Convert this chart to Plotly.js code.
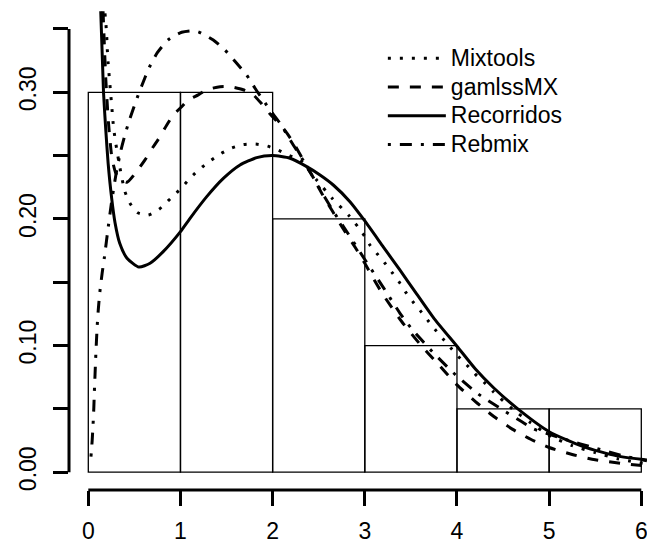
<!DOCTYPE html>
<html><head><meta charset="utf-8">
<script src="https://cdn.plot.ly/plotly-3.0.1.min.js"></script>
<style>html,body{margin:0;padding:0;background:#fff}#chart{width:647px;height:544px}</style>
</head><body><div id="chart"></div>
<script>
// Histogram
const binCenters = [0.5, 1.5, 2.5, 3.5, 4.5, 5.5];
const binDensity = [0.30, 0.30, 0.20, 0.10, 0.05, 0.05];

// Mixtools (dotted)
const mixX = [0.181,0.192,0.200,0.206,0.214,0.224,0.235,0.246,0.257,0.268,0.282,0.301,0.344,0.398,0.452,0.532,0.651,0.767,0.865,0.959,1.049,1.139,1.237,1.335,1.443,1.559,1.682,1.816,1.946,2.066,2.181,2.297,2.471,2.65,2.832,2.977,3.056,3.136,3.219,3.302,3.382,3.447,3.526,3.61,3.689,3.772,3.852,3.943,4.033,4.123,4.214,4.304,4.394,4.6,4.8,5.0,5.25,5.5,5.75,6.06];
const mixY = [0.3624,0.3531,0.3439,0.3340,0.3242,0.3151,0.3058,0.2961,0.2866,0.2768,0.2677,0.2584,0.2400,0.2215,0.2124,0.2050,0.2031,0.2076,0.2142,0.2207,0.2276,0.2347,0.2410,0.2465,0.2518,0.2561,0.2587,0.2591,0.2575,0.2541,0.2501,0.2465,0.2313,0.2160,0.2023,0.1887,0.1794,0.1723,0.1650,0.1571,0.1492,0.1418,0.1342,0.1268,0.1194,0.1118,0.1050,0.0973,0.0900,0.0834,0.0763,0.0703,0.0636,0.0500,0.0390,0.0290,0.0210,0.0155,0.0105,0.0065];

// gamlssMX (dashed)
const gamX = [0.16,0.19,0.22,0.257,0.30,0.36,0.42,0.54,0.615,0.705,0.778,0.85,0.922,1.013,1.085,1.193,1.285,1.43,1.54,1.68,1.79,1.88,1.97,2.1,2.2,2.4,2.55,2.65,2.75,2.9,3.0,3.1,3.2,3.4,3.6,3.8,4.0,4.2,4.4,4.6,4.8,5.0,5.25,5.5,5.8,6.06];
const gamY = [0.364,0.310,0.275,0.248,0.236,0.231,0.229,0.239,0.2466,0.257,0.265,0.274,0.282,0.2886,0.294,0.298,0.302,0.3044,0.3044,0.302,0.298,0.291,0.283,0.273,0.263,0.238,0.218,0.206,0.194,0.177,0.165,0.152,0.140,0.119,0.101,0.085,0.069,0.0558,0.044,0.034,0.026,0.0195,0.014,0.0098,0.0068,0.005];

// Recorridos (solid)
const recX = [0.135,0.165,0.19,0.215,0.254,0.29,0.34,0.42,0.55,0.67,0.81,1.0,1.104,1.285,1.465,1.646,1.827,2.0,2.188,2.37,2.514,2.658,2.839,2.994,3.2,3.38,3.56,3.75,4.0,4.2,4.4,4.66,5.0,5.37,5.733,6.06];
const recY = [0.364,0.300,0.270,0.244,0.216,0.197,0.181,0.169,0.162,0.165,0.174,0.190,0.2005,0.2176,0.232,0.2426,0.2484,0.250,0.2479,0.2413,0.2347,0.2268,0.2136,0.199,0.178,0.1597,0.141,0.1215,0.0995,0.0815,0.0665,0.050,0.032,0.0202,0.0129,0.0097];

// Rebmix (dash-dot)
const rebX = [0.029,0.042,0.052,0.060,0.066,0.073,0.080,0.088,0.097,0.108,0.125,0.150,0.175,0.217,0.25,0.30,0.35,0.40,0.45,0.532,0.579,0.662,0.749,0.865,1.013,1.12,1.193,1.356,1.483,1.61,1.718,1.809,1.917,1.971,2.08,2.224,2.35,2.478,2.658,2.8,3.0,3.2,3.382,3.5,3.707,3.96,4.23,4.5,4.7,4.83,5.0,5.17,5.5,5.8,6.06];
const rebY = [0.0123,0.025,0.038,0.051,0.064,0.077,0.090,0.103,0.116,0.128,0.142,0.157,0.170,0.194,0.212,0.235,0.253,0.267,0.279,0.296,0.305,0.3197,0.3313,0.3413,0.3474,0.3486,0.3478,0.3413,0.3334,0.3229,0.3136,0.3032,0.2918,0.2860,0.2755,0.2584,0.2440,0.2280,0.2060,0.1905,0.1680,0.1460,0.1255,0.1140,0.0971,0.0786,0.0618,0.0490,0.0400,0.0342,0.0300,0.0260,0.0190,0.0130,0.0090];

const seriesNames = ['Mixtools', 'gamlssMX', 'Recorridos', 'Rebmix'];
const xTicks = [0,1,2,3,4,5,6];
const yTicks = [0,0.05,0.10,0.15,0.20,0.25,0.30,0.35];
const yTickText = ['0.00','','0.10','','0.20','','0.30',''];

const xRange = [-0.2094, 6.0618];
const yRange = [-0.01405, 0.3642];
const fx = v => (v - xRange[0]) / (xRange[1] - xRange[0]);
const fy = v => (v - yRange[0]) / (yRange[1] - yRange[0]);

const FONT = 'Liberation Sans, Arial, Helvetica, sans-serif';
const legName = s => '<span style="font-size:23px">' + s + '</span>';

const traces = [
  {type:'bar', x:binCenters, y:binDensity, width:1, marker:{color:'rgba(255,255,255,0)', line:{color:'#000', width:1.3}}, showlegend:false, hoverinfo:'skip'},
  {type:'scatter', mode:'lines', x:mixX, y:mixY, name:legName(seriesNames[0]), line:{color:'#000', width:3, dash:'3px,9px', shape:'spline', smoothing:0.6}},
  {type:'scatter', mode:'lines', x:gamX, y:gamY, name:legName(seriesNames[1]), line:{color:'#000', width:3, dash:'11px,11px', shape:'spline', smoothing:0.6}},
  {type:'scatter', mode:'lines', x:recX, y:recY, name:legName(seriesNames[2]), line:{color:'#000', width:3, shape:'spline', smoothing:0.6}},
  {type:'scatter', mode:'lines', x:rebX, y:rebY, name:legName(seriesNames[3]), line:{color:'#000', width:3, dash:'3px,9px,12px,9px', shape:'spline', smoothing:0.6}}
];

const layout = {
  width:647, height:544,
  margin:{l:69, r:0, t:11, b:54, pad:0},
  paper_bgcolor:'#fff', plot_bgcolor:'#fff',
  font:{family:FONT, color:'#000', size:23},
  showlegend:true,
  legend:{x:0.543, y:0.9418, xanchor:'left', yanchor:'top', bgcolor:'rgba(0,0,0,0)', borderwidth:0, font:{family:FONT, size:19.8, color:'#000'}, itemwidth:58},
  bargap:0,
  xaxis:{range:xRange, tickmode:'array', tickvals:xTicks, ticktext:xTicks.map(String), ticks:'outside', ticklen:15, tickwidth:3, tickcolor:'#000', showline:false, showgrid:false, zeroline:false, ticklabeloverflow:'allow', ticklabelstandoff:5, tickfont:{family:FONT, size:23, color:'#000'}},
  yaxis:{range:yRange, tickmode:'array', tickvals:yTicks, ticktext:yTickText, ticks:'outside', ticklen:15, tickwidth:3, tickcolor:'#000', tickangle:-90, showline:false, showgrid:false, zeroline:false, ticklabelstandoff:8, tickfont:{family:FONT, size:23, color:'#000'}},
  shapes:[
    {type:'line', xref:'paper', yref:'paper', x0:0, x1:0, y0:fy(0), y1:fy(0.35), line:{color:'#000', width:3}},
    {type:'line', xref:'paper', yref:'paper', x0:fx(0), x1:fx(6), y0:0, y1:0, line:{color:'#000', width:3}}
  ]
};

Plotly.newPlot('chart', traces, layout, {staticPlot:true, displayModeBar:false});
</script>
</body></html>
